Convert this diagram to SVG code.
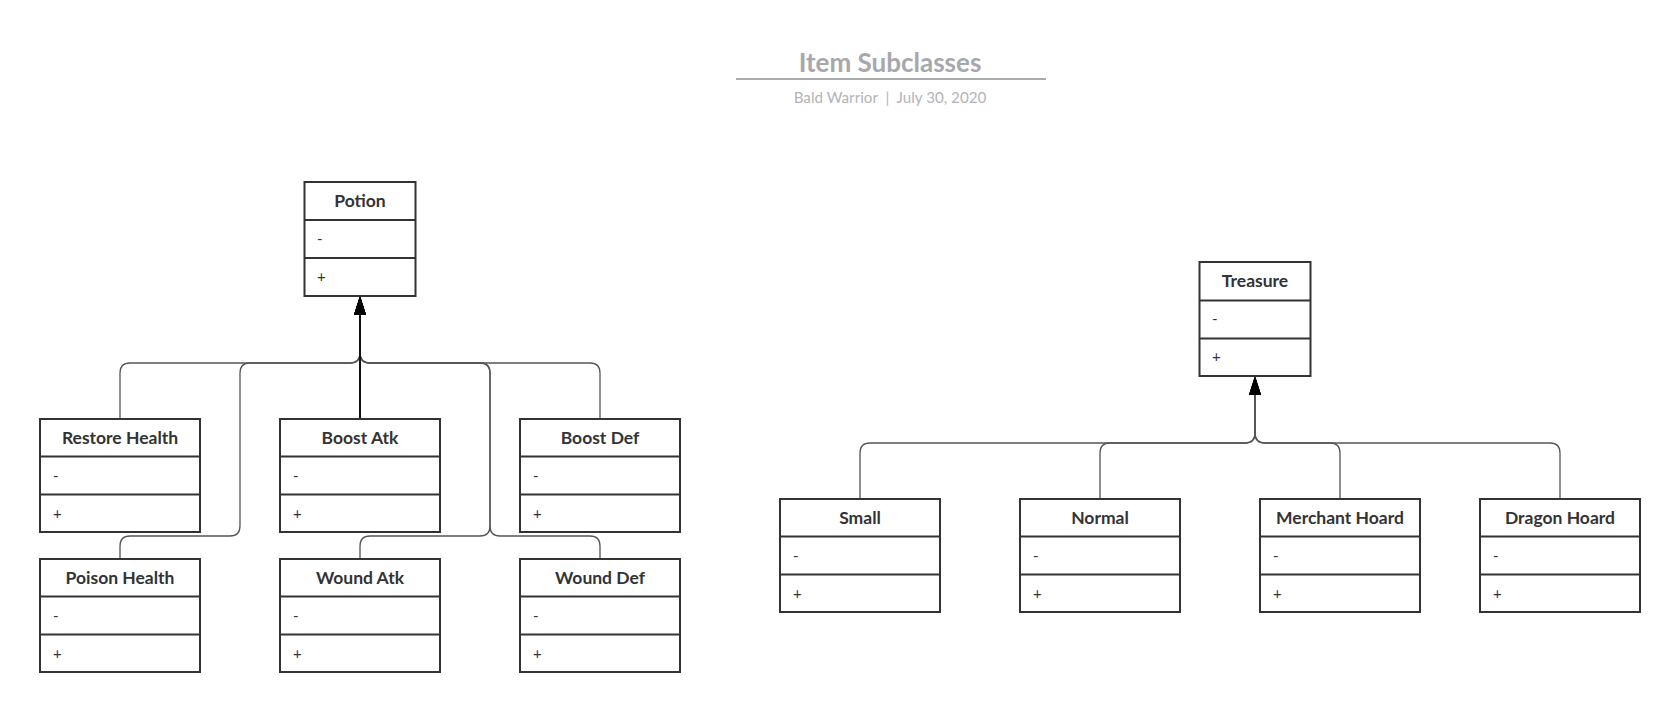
<svg xmlns="http://www.w3.org/2000/svg" width="1680" height="712" viewBox="0 0 1680 712">
<style>
.box{fill:#fff;stroke:#333;stroke-width:2}
.div{stroke:#333;stroke-width:2}
.name{font-family:Lato,"Liberation Sans",sans-serif;font-weight:bold;font-size:17.5px;fill:#333;text-anchor:middle}
.mem{font-family:Lato,"Liberation Sans",sans-serif;font-size:15px;fill:#333}
.conn{fill:none;stroke:#555;stroke-width:1.3;marker-end:url(#tri)}
.main{stroke:#111;stroke-width:2}
.title{font-family:Lato,"Liberation Sans",sans-serif;font-weight:bold;font-size:26px;fill:#a6a8ab;text-anchor:middle}
.sub{font-family:Lato,"Liberation Sans",sans-serif;font-size:15.2px;fill:#b2b4b7;text-anchor:middle;white-space:pre}
</style>
<defs>
<marker id="tri" markerUnits="userSpaceOnUse" viewBox="0 -6 19 12" refX="19" refY="0" markerWidth="19" markerHeight="12" orient="auto">
<path d="M0,-6 L19,0 L0,6 Z" fill="#000"/>
</marker>
</defs>
<rect width="1680" height="712" fill="#fff"/>
<g id="title">
<text class="title" x="890" y="72">Item Subclasses</text>
<line x1="736" y1="79" x2="1046" y2="79" stroke="#a8aaad" stroke-width="2"/>
<text class="sub" x="890" y="103">Bald Warrior  |  July 30, 2020</text>
</g>
<g id="connectors">
<path class="conn" d="M120,419 V373 Q120,363 130,363 H350 Q360,363 360,353 V296"/>
<path class="conn" d="M600,419 V373 Q600,363 590,363 H370 Q360,363 360,353 V296"/>
<path class="conn" d="M120,559 V546 Q120,536 130,536 H230 Q240,536 240,526 V373 Q240,363 250,363 H350 Q360,363 360,353 V296"/>
<path class="conn" d="M360,559 V546 Q360,536 370,536 H480 Q490,536 490,526 V373 Q490,363 480,363 H370 Q360,363 360,353 V296"/>
<path class="conn" d="M600,559 V546 Q600,536 590,536 H500 Q490,536 490,526 V373 Q490,363 480,363 H370 Q360,363 360,353 V296"/>
<path class="conn main" d="M360,419 V296"/>
<path class="conn" d="M860,499 V453 Q860,443 870,443 H1245 Q1255,443 1255,433 V376"/>
<path class="conn" d="M1100,499 V453 Q1100,443 1110,443 H1245 Q1255,443 1255,433 V376"/>
<path class="conn" d="M1340,499 V453 Q1340,443 1330,443 H1265 Q1255,443 1255,433 V376"/>
<path class="conn" d="M1560,499 V453 Q1560,443 1550,443 H1265 Q1255,443 1255,433 V376"/>
</g>
<g id="potion">
<rect class="box" x="304.5" y="182" width="111" height="114"/>
<line class="div" x1="304.5" y1="220" x2="415.5" y2="220"/>
<line class="div" x1="304.5" y1="258" x2="415.5" y2="258"/>
<text class="name" x="360" y="207">Potion</text>
<text class="mem" x="317" y="244">-</text>
<text class="mem" x="317" y="282">+</text>
</g>
<g id="restore-health">
<rect class="box" x="40" y="419" width="160" height="113"/>
<line class="div" x1="40" y1="456.5" x2="200" y2="456.5"/>
<line class="div" x1="40" y1="494.5" x2="200" y2="494.5"/>
<text class="name" x="120" y="444">Restore Health</text>
<text class="mem" x="53" y="481">-</text>
<text class="mem" x="53" y="519">+</text>
</g>
<g id="boost-atk">
<rect class="box" x="280" y="419" width="160" height="113"/>
<line class="div" x1="280" y1="456.5" x2="440" y2="456.5"/>
<line class="div" x1="280" y1="494.5" x2="440" y2="494.5"/>
<text class="name" x="360" y="444">Boost Atk</text>
<text class="mem" x="293" y="481">-</text>
<text class="mem" x="293" y="519">+</text>
</g>
<g id="boost-def">
<rect class="box" x="520" y="419" width="160" height="113"/>
<line class="div" x1="520" y1="456.5" x2="680" y2="456.5"/>
<line class="div" x1="520" y1="494.5" x2="680" y2="494.5"/>
<text class="name" x="600" y="444">Boost Def</text>
<text class="mem" x="533" y="481">-</text>
<text class="mem" x="533" y="519">+</text>
</g>
<g id="poison-health">
<rect class="box" x="40" y="559" width="160" height="113"/>
<line class="div" x1="40" y1="596.5" x2="200" y2="596.5"/>
<line class="div" x1="40" y1="634.5" x2="200" y2="634.5"/>
<text class="name" x="120" y="584">Poison Health</text>
<text class="mem" x="53" y="621">-</text>
<text class="mem" x="53" y="659">+</text>
</g>
<g id="wound-atk">
<rect class="box" x="280" y="559" width="160" height="113"/>
<line class="div" x1="280" y1="596.5" x2="440" y2="596.5"/>
<line class="div" x1="280" y1="634.5" x2="440" y2="634.5"/>
<text class="name" x="360" y="584">Wound Atk</text>
<text class="mem" x="293" y="621">-</text>
<text class="mem" x="293" y="659">+</text>
</g>
<g id="wound-def">
<rect class="box" x="520" y="559" width="160" height="113"/>
<line class="div" x1="520" y1="596.5" x2="680" y2="596.5"/>
<line class="div" x1="520" y1="634.5" x2="680" y2="634.5"/>
<text class="name" x="600" y="584">Wound Def</text>
<text class="mem" x="533" y="621">-</text>
<text class="mem" x="533" y="659">+</text>
</g>
<g id="treasure">
<rect class="box" x="1199.5" y="262" width="111" height="114"/>
<line class="div" x1="1199.5" y1="300.5" x2="1310.5" y2="300.5"/>
<line class="div" x1="1199.5" y1="338.5" x2="1310.5" y2="338.5"/>
<text class="name" x="1255" y="287">Treasure</text>
<text class="mem" x="1212" y="324">-</text>
<text class="mem" x="1212" y="362">+</text>
</g>
<g id="small">
<rect class="box" x="780" y="499" width="160" height="113"/>
<line class="div" x1="780" y1="536.5" x2="940" y2="536.5"/>
<line class="div" x1="780" y1="574.5" x2="940" y2="574.5"/>
<text class="name" x="860" y="524">Small</text>
<text class="mem" x="793" y="561">-</text>
<text class="mem" x="793" y="599">+</text>
</g>
<g id="normal">
<rect class="box" x="1020" y="499" width="160" height="113"/>
<line class="div" x1="1020" y1="536.5" x2="1180" y2="536.5"/>
<line class="div" x1="1020" y1="574.5" x2="1180" y2="574.5"/>
<text class="name" x="1100" y="524">Normal</text>
<text class="mem" x="1033" y="561">-</text>
<text class="mem" x="1033" y="599">+</text>
</g>
<g id="merchant-hoard">
<rect class="box" x="1260" y="499" width="160" height="113"/>
<line class="div" x1="1260" y1="536.5" x2="1420" y2="536.5"/>
<line class="div" x1="1260" y1="574.5" x2="1420" y2="574.5"/>
<text class="name" x="1340" y="524">Merchant Hoard</text>
<text class="mem" x="1273" y="561">-</text>
<text class="mem" x="1273" y="599">+</text>
</g>
<g id="dragon-hoard">
<rect class="box" x="1480" y="499" width="160" height="113"/>
<line class="div" x1="1480" y1="536.5" x2="1640" y2="536.5"/>
<line class="div" x1="1480" y1="574.5" x2="1640" y2="574.5"/>
<text class="name" x="1560" y="524">Dragon Hoard</text>
<text class="mem" x="1493" y="561">-</text>
<text class="mem" x="1493" y="599">+</text>
</g>
</svg>
